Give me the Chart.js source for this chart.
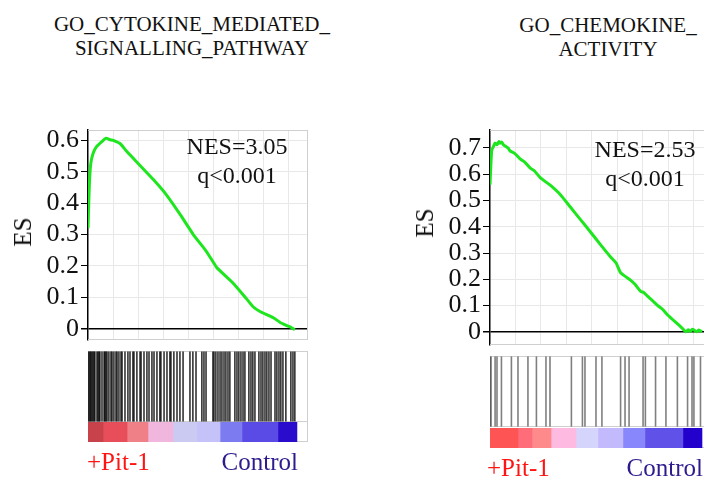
<!DOCTYPE html>
<html>
<head>
<meta charset="utf-8">
<script src="https://cdn.jsdelivr.net/npm/chart.js@4.4.1/dist/chart.umd.min.js"></script>
<style>
    html, body { margin: 0; padding: 0; background: #fff; }
    body { width: 704px; height: 479px; position: relative; overflow: hidden; font-family: "Liberation Serif", "Times New Roman", serif; color: #111; }
    canvas { position: absolute; }
    .txt { position: absolute; white-space: nowrap; }
    .title { font-size: 21px; line-height: 24px; text-align: center; width: 340px; }
    .nes { font-size: 24px; line-height: 29px; text-align: center; width: 160px; }
    .es { font-size: 25px; transform: translate(-50%, -50%) rotate(-90deg); }
    .grp { font-size: 25px; line-height: 30px; }
    .pit { color: #ff1414; }
    .ctrl { color: #2c1c8e; }
</style>
</head>
<body>
<div class="txt title" style="left:22px; top:12px;">GO_CYTOKINE_MEDIATED_<br>SIGNALLING_PATHWAY</div>
<div class="txt title" style="left:438px; top:13px;">GO_CHEMOKINE_<br>ACTIVITY</div>

<canvas id="esLeft" width="310" height="240" style="left:0; top:115px;"></canvas>
<canvas id="hitsLeft" width="222" height="74" style="left:88px; top:349px;"></canvas>
<canvas id="barLeft" width="222" height="21" style="left:88px; top:422px;"></canvas>

<canvas id="esRight" width="315" height="245" style="left:400px; top:115px;"></canvas>
<canvas id="hitsRight" width="225" height="74" style="left:490px; top:354px;"></canvas>
<canvas id="barRight" width="225" height="21" style="left:490px; top:428px;"></canvas>

<div class="txt nes" style="left:157px; top:132px;">NES=3.05<br>q&lt;0.001</div>
<div class="txt nes" style="left:565px; top:135px;">NES=2.53<br>q&lt;0.001</div>
<div class="txt es" style="left:23px; top:232px;">ES</div>
<div class="txt es" style="left:425px; top:223px;">ES</div>

<div class="txt grp pit" style="left:87px; top:447px;">+Pit-1</div>
<div class="txt grp ctrl" style="right:406px; top:447px;">Control</div>
<div class="txt grp pit" style="left:487px; top:453px;">+Pit-1</div>
<div class="txt grp ctrl" style="right:1px; top:453px;">Control</div>

<script>
// Running enrichment score, rank position in % of the ranked gene list
const esRankLeft = [0, 0.6, 1.3, 2.5, 4.1, 6.5, 8.6, 10.5, 12.1, 15.3,
    18.5, 24.9, 31.3, 37.7, 44.0, 50.4, 56.8, 61.6, 65.5, 69.5,
    75.9, 79.0, 82.3, 85.5, 88.7, 92.0, 95.1, 97.5, 99.0];
const esValueLeft = [0.32, 0.45, 0.525, 0.56, 0.58, 0.595, 0.607, 0.602, 0.60, 0.59,
    0.565, 0.52, 0.475, 0.425, 0.365, 0.30, 0.245, 0.195, 0.17, 0.145,
    0.095, 0.07, 0.055, 0.045, 0.035, 0.02, 0.01, 0.003, -0.003];

const esRankRight = [0, 0.8, 1.6, 2.4, 3.3, 4.2, 4.7, 5.5, 6.3, 7.5,
    8.5, 9.5, 11.5, 14.2, 16.5, 19.0, 21.0, 23.7, 28.4, 33.2,
    37.9, 42.7, 47.4, 52.1, 56.9, 59.5, 61.6, 64.0, 66.4, 68.5,
    71.1, 72.5, 74.3, 76.5, 79.0, 81.5, 83.7, 86.0, 88.5, 90.5,
    92.4, 93.5, 94.5, 95.5, 96.4, 97.5, 98.5, 100];
const esValueRight = [0.56, 0.69, 0.705, 0.718, 0.712, 0.724, 0.718, 0.722, 0.712, 0.705,
    0.700, 0.688, 0.680, 0.658, 0.645, 0.623, 0.612, 0.587, 0.558, 0.522,
    0.475, 0.427, 0.380, 0.332, 0.285, 0.262, 0.225, 0.21, 0.196, 0.18,
    0.154, 0.15, 0.136, 0.12, 0.101, 0.085, 0.065, 0.048, 0.030, 0.015,
    0.0, 0.008, 0.002, 0.01, 0.006, 0.0, 0.007, 0.0];

// Positions of the gene set members in the ranked list (%)
const hitsLeft = [0, 0.5, 1.0, 1.4, 1.9, 2.4, 2.9, 3.3, 4.3, 4.8, 5.3, 5.7, 6.7, 7.7, 8.1, 8.6,
    9.1, 10.0, 11.0, 11.5, 12.4, 13.4, 13.9, 14.8, 15.8, 16.3, 17.7, 19.1, 20.1, 21.5, 22.0,
    23.4, 24.9, 25.4, 26.8, 28.2, 29.2, 30.6, 31.6, 33.0, 34.4, 34.9, 36.4, 37.8, 39.2, 39.7,
    41.1, 42.6, 44.0, 45.5, 48.8, 50.2, 51.7, 54.5, 55.5, 56.5, 59.8, 60.3, 61.2, 62.2, 63.2,
    64.1, 65.1, 66.0, 67.0, 67.9, 70.3, 71.3, 72.2, 73.2, 74.2, 75.1, 77.0, 78.0, 78.9, 79.9,
    81.8, 82.8, 83.7, 84.7, 85.6, 86.6, 87.6, 89.5, 90.4, 91.4, 92.3, 93.3, 94.7, 97.1, 98.1, 99.0];
const hitsRight = [0, 0.5, 2.4, 3.3, 5.4, 10.1, 13.2, 17.9, 21.9, 26.4, 28.3, 38.4, 43.6, 44.8,
    50.0, 52.8, 61.6, 63.7, 65.6, 72.2, 73.3, 78.1, 83.0, 88.4, 93.2, 95.3, 96.2, 99.3];

// Ranked list metric colour blocks: block edges (%)
const blockEdgesLeft = [0, 7.2, 18.7, 28.7, 40.7, 52.2, 63.2, 73.7, 90.9, 100];
const blockEdgesRight = [0, 13.2, 19.8, 28.8, 40.6, 50.9, 62.7, 73.1, 91.0, 100];

// Tick labels
const esTicksLeft = [0, 0.1, 0.2, 0.3, 0.4, 0.5, 0.6];
const esTicksRight = [0, 0.1, 0.2, 0.3, 0.4, 0.5, 0.6, 0.7];
const gridRanks = [12, 24, 36, 48, 60, 72, 84, 96];

const blockColorsLeft = ['#c8424c', '#e84e5a', '#f08088', '#f0b6de', '#cacaf2', '#c4c2f8', '#7c7cf0', '#5a4ae6', '#2a0ccc'];
const blockColorsRight = ['#ff5454', '#ff6c7a', '#ff8a8c', '#ffbae2', '#d4d4fc', '#c2bafc', '#8888fc', '#6052e8', '#2400cc'];

const serif = '"Liberation Serif", "Times New Roman", serif';
const frameColor = '#cfcfcf';

/**
 * @brief Draws a light gray frame on selected sides of the chart area.
 */
const framePlugin = {
    id: 'frame',
    beforeDatasetsDraw(chart, args, opts) {
        const a = chart.chartArea;
        const ctx = chart.ctx;
        const sides = opts.sides || [];
        ctx.save();
        ctx.strokeStyle = frameColor;
        ctx.lineWidth = 1;
        ctx.beginPath();
        if (sides.includes('top')) { ctx.moveTo(a.left, a.top + 0.5); ctx.lineTo(a.right, a.top + 0.5); }
        if (sides.includes('right')) { ctx.moveTo(a.right - 0.5, a.top); ctx.lineTo(a.right - 0.5, a.bottom); }
        if (sides.includes('bottom')) { ctx.moveTo(a.left, a.bottom - 0.5); ctx.lineTo(a.right, a.bottom - 0.5); }
        ctx.stroke();
        ctx.restore();
    }
};
Chart.register(framePlugin);

/**
 * @brief Creates the running enrichment score plot.
 */
function makeEsChart(id, ranks, values, ticks, yMin, yMax, xMax, axisWidth) {
    const ctx = document.getElementById(id).getContext('2d');
    return new Chart(ctx, {
        type: 'line',
        data: {
            datasets: [{
                data: ranks.map((r, i) => ({ x: r, y: values[i] })),
                borderColor: '#1ee61e',
                borderWidth: 3,
                pointRadius: 0,
                tension: 0.2,
                fill: false
            }]
        },
        options: {
            responsive: false,
            animation: false,
            events: [],
            layout: { autoPadding: false, padding: { top: 8, bottom: 8, left: 0, right: 2 } },
            plugins: {
                legend: { display: false },
                tooltip: { enabled: false },
                frame: { sides: ['top', 'right', 'bottom'] }
            },
            scales: {
                x: {
                    type: 'linear',
                    min: 0,
                    max: xMax,
                    afterFit: s => { s.height = 0; },
                    afterBuildTicks: s => { s.ticks = gridRanks.map(v => ({ value: v })); },
                    ticks: { display: false },
                    border: { display: false },
                    grid: { color: '#e8e8e8', drawTicks: false }
                },
                y: {
                    min: yMin,
                    max: yMax,
                    afterFit: s => { s.width = axisWidth; },
                    afterBuildTicks: s => { s.ticks = ticks.map(v => ({ value: v })); },
                    border: { color: '#000', width: 1.5 },
                    grid: {
                        color: c => (c.tick && c.tick.value === 0) ? '#000' : '#e8e8e8',
                        lineWidth: c => (c.tick && c.tick.value === 0) ? 1.5 : 1,
                        tickColor: '#000',
                        tickLength: 7
                    },
                    ticks: {
                        color: '#111',
                        padding: 2,
                        autoSkip: false,
                        font: { family: serif, size: 26, lineHeight: 1 },
                        callback: v => String(v)
                    }
                }
            }
        }
    });
}

/**
 * @brief Creates the hit marks (one vertical line per gene set member).
 */
function makeHitsChart(id, hits, xMax, lineColor) {
    const ctx = document.getElementById(id).getContext('2d');
    return new Chart(ctx, {
        type: 'scatter',
        data: {
            datasets: [{
                data: hits.map(r => ({ x: r, y: 0.5 })),
                pointStyle: 'line',
                rotation: 90,
                pointRadius: 35,
                pointHoverRadius: 35,
                borderColor: lineColor,
                borderWidth: 1.6,
                clip: false
            }]
        },
        options: {
            responsive: false,
            animation: false,
            events: [],
            layout: { autoPadding: false, padding: { top: 2, bottom: 1, left: 0, right: 2 } },
            plugins: {
                legend: { display: false },
                tooltip: { enabled: false },
                frame: { sides: ['top', 'right', 'bottom'] }
            },
            scales: {
                x: { type: 'linear', min: 0, max: xMax, display: false },
                y: { min: 0, max: 1, display: false }
            }
        }
    });
}

/**
 * @brief Creates the coloured bar of the ranked list metric.
 */
function makeBlockChart(id, edges, colors, xMax) {
    const ctx = document.getElementById(id).getContext('2d');
    const datasets = [];
    for (let i = 0; i < edges.length - 1; i++) {
        datasets.push({
            data: [[edges[i], edges[i + 1]]],
            backgroundColor: colors[i],
            barPercentage: 1,
            categoryPercentage: 1,
            grouped: false,
            borderWidth: 0
        });
    }
    return new Chart(ctx, {
        type: 'bar',
        data: { labels: [''], datasets: datasets },
        options: {
            indexAxis: 'y',
            responsive: false,
            animation: false,
            events: [],
            layout: { autoPadding: false, padding: { top: 0, bottom: 1, left: 0, right: 2 } },
            plugins: {
                legend: { display: false },
                tooltip: { enabled: false },
                frame: { sides: ['right', 'bottom'] }
            },
            scales: {
                x: { type: 'linear', min: 0, max: xMax, display: false },
                y: { display: false }
            }
        }
    });
}

window.onload = function () {
    const xMaxLeft = 105.3;
    const xMaxRight = 105.2;
    makeEsChart('esLeft', esRankLeft, esValueLeft, esTicksLeft, -0.036, 0.633, xMaxLeft, 88);
    makeHitsChart('hitsLeft', hitsLeft, xMaxLeft, 'rgba(0, 0, 0, 0.8)');
    makeBlockChart('barLeft', blockEdgesLeft, blockColorsLeft, xMaxLeft);

    makeEsChart('esRight', esRankRight, esValueRight, esTicksRight, -0.05, 0.768, xMaxRight, 90);
    makeHitsChart('hitsRight', hitsRight, xMaxRight, 'rgba(0, 0, 0, 0.5)');
    makeBlockChart('barRight', blockEdgesRight, blockColorsRight, xMaxRight);
};
</script>
</body>
</html>
